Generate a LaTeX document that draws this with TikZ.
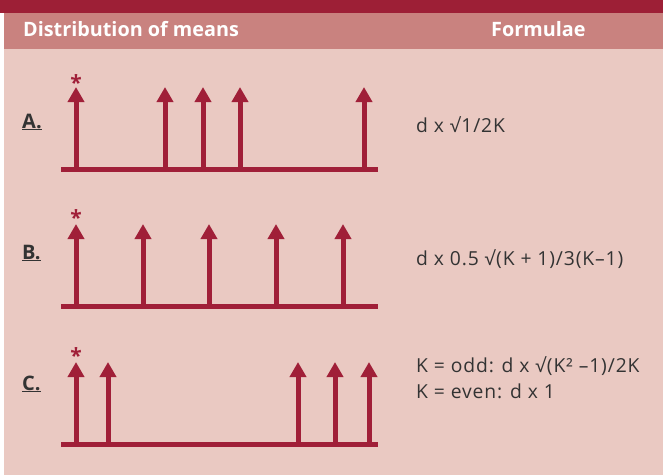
\documentclass[tikz,border=0pt]{standalone}
\usepackage{fontspec}
\setmainfont{Open Sans}
\newfontfamily\headfont{Open Sans}
\newfontfamily\formfont[LetterSpace=4.5]{Open Sans}
\usetikzlibrary{arrows.meta}
\definecolor{darkband}{HTML}{9D1F36}
\definecolor{headpink}{HTML}{C9827F}
\definecolor{bodypink}{HTML}{EAC9C2}
\definecolor{arrowred}{HTML}{A01F38}
\definecolor{txtgray}{HTML}{333333}
\tikzset{
  headtext/.style={anchor=base west, inner sep=0pt, text=white, font=\headfont\bfseries\fontsize{19.8}{24}\selectfont},
  rowlabel/.style={anchor=base west, inner sep=0pt, text=txtgray, font=\bfseries\fontsize{20}{20}\selectfont},
  formula/.style={anchor=base west, inner sep=0pt, text=txtgray, font=\formfont\fontsize{19.3}{26}\selectfont, align=left},
  baseln/.style={draw=arrowred, line width=5.5pt},
  spike/.style={draw=arrowred, line width=5pt, -{Triangle[width=16pt,length=15pt]}},
  starmark/.style={anchor=base, inner sep=0pt, text=arrowred, font=\bfseries\fontsize{21}{21}\selectfont}
}
\begin{document}
\begin{tikzpicture}[x=1pt,y=-1pt]
\useasboundingbox (0,0) rectangle (663,475);
% backgrounds
\fill[white] (0,0) rectangle (663,475);
\fill[bodypink] (4,49) rectangle (663,475);
\fill[headpink] (4,12) rectangle (663,49);
\fill[darkband] (0,0) rectangle (663,12.5);
% header
\node[headtext] (h1) at (23,36) {Distribution of means};
\node[headtext] (h2) at (491,36) {Formulae};
% row labels
\node[rowlabel] (la) at (22,128) {\underline{A.}};
\node[rowlabel] (lb) at (22,259) {\underline{B.}};
\node[rowlabel] (lc) at (22,390) {\underline{C.}};
% formulae
\node[formula] (fa) at (416,132) {d x √1/2K};
\node[formula] (fb) at (416,265) {d x 0.5 √(K + 1)/3(K–1)};
\node[formula] (fc) at (416,398) {K = odd: d x √(K² –1)/2K\\K = even: d x 1};
% row A
\coordinate (aL) at (61,169.5);
\coordinate (aR) at (378,169.5);
\draw[baseln] (aL) -- (aR);
\foreach \i/\x in {1/76,2/165,3/203,4/240,5/364}{
  \coordinate (ab\i) at (\x,169.5);
  \coordinate (at\i) at (\x,87);
  \draw[spike] (ab\i) -- (at\i);
}
\node[starmark] (sa) at (76,90) {*};
% row B
\coordinate (bL) at (61,306.5);
\coordinate (bR) at (378,306.5);
\draw[baseln] (bL) -- (bR);
\foreach \i/\x in {1/76,2/143,3/209,4/276,5/343}{
  \coordinate (bb\i) at (\x,306.5);
  \coordinate (bt\i) at (\x,224);
  \draw[spike] (bb\i) -- (bt\i);
}
\node[starmark] (sb) at (76,225) {*};
% row C
\coordinate (cL) at (61,444.5);
\coordinate (cR) at (378,444.5);
\draw[baseln] (cL) -- (cR);
\foreach \i/\x in {1/76,2/108,3/298,4/335,5/369}{
  \coordinate (cb\i) at (\x,444.5);
  \coordinate (ct\i) at (\x,362);
  \draw[spike] (cb\i) -- (ct\i);
}
\node[starmark] (sc) at (76,363) {*};
\end{tikzpicture}
\end{document}
